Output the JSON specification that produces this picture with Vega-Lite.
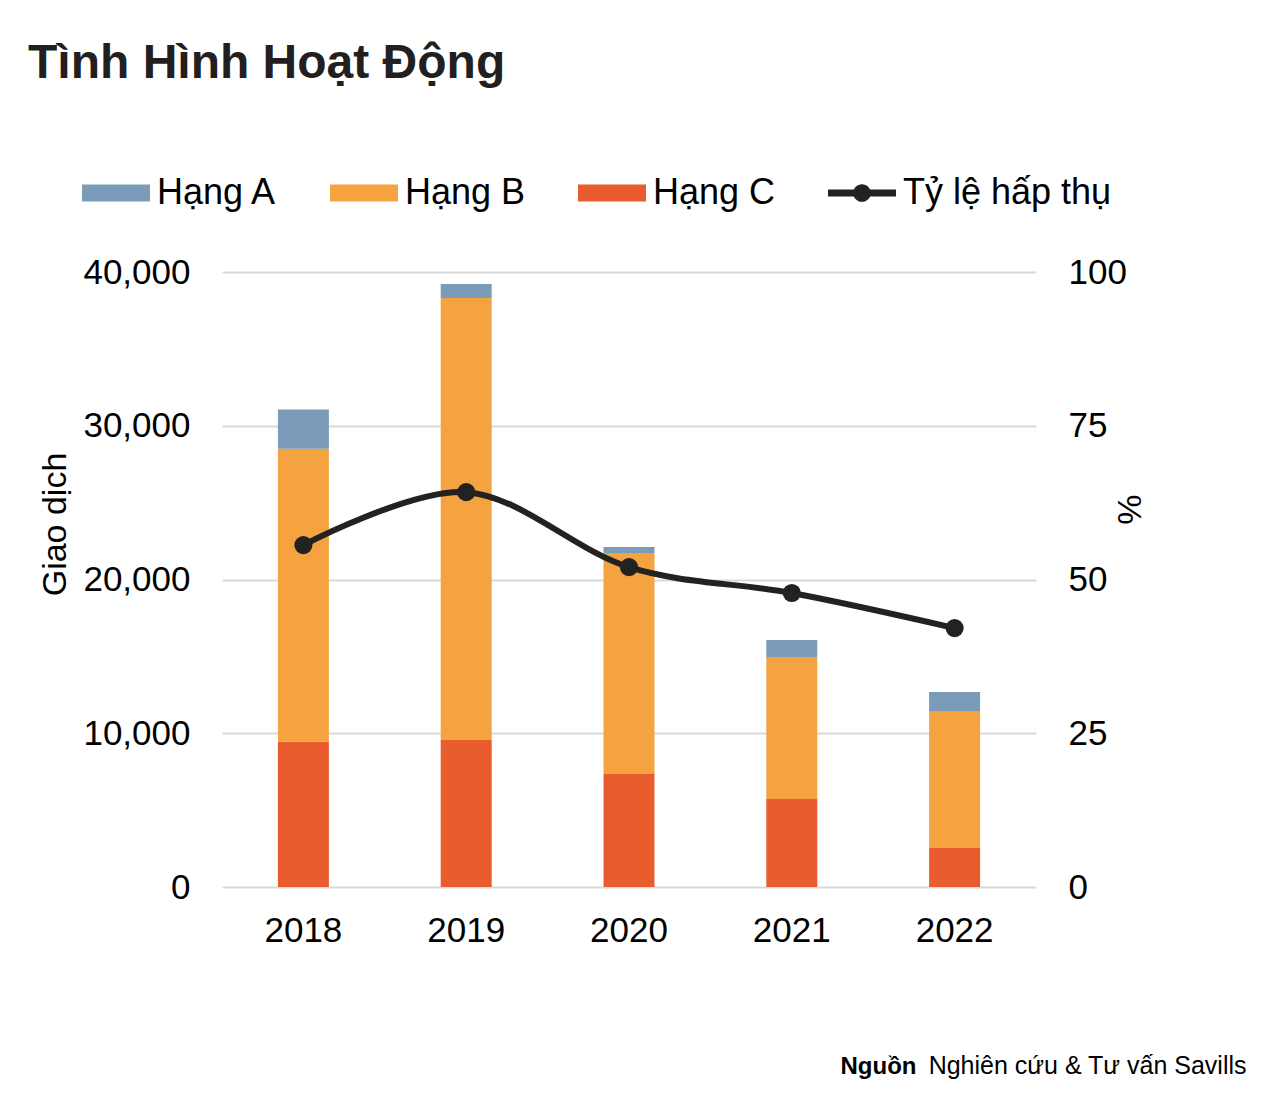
{
  "$schema": "https://vega.github.io/schema/vega-lite/v6.json",
  "width": 814,
  "height": 615,
  "autosize": {"type": "none"},
  "padding": {"left": 222, "top": 272, "right": 234, "bottom": 209},
  "background": "white",
  "config": {
    "font": "Liberation Sans",
    "view": {"stroke": null},
    "axis": {"labelFont": "Liberation Sans", "titleFont": "Liberation Sans", "labelColor": "#000000", "titleColor": "#000000"}
  },
  "title": {
    "text": "Tình Hình Hoạt Động",
    "anchor": "start",
    "frame": "group",
    "orient": "top",
    "font": "Liberation Sans",
    "fontSize": 48,
    "fontWeight": "bold",
    "color": "#231f20",
    "baseline": "alphabetic",
    "offset": 33,
    "dx": -194
  },
  "datasets": {
    "bars": [
      {"year": "2018", "series": "Hạng C", "value": 9450},
      {"year": "2018", "series": "Hạng B", "value": 19050},
      {"year": "2018", "series": "Hạng A", "value": 2550},
      {"year": "2019", "series": "Hạng C", "value": 9560},
      {"year": "2019", "series": "Hạng B", "value": 28750},
      {"year": "2019", "series": "Hạng A", "value": 910},
      {"year": "2020", "series": "Hạng C", "value": 7350},
      {"year": "2020", "series": "Hạng B", "value": 14370},
      {"year": "2020", "series": "Hạng A", "value": 390},
      {"year": "2021", "series": "Hạng C", "value": 5720},
      {"year": "2021", "series": "Hạng B", "value": 9240},
      {"year": "2021", "series": "Hạng A", "value": 1100},
      {"year": "2022", "series": "Hạng C", "value": 2540},
      {"year": "2022", "series": "Hạng B", "value": 8910},
      {"year": "2022", "series": "Hạng A", "value": 1230}
    ],
    "rate": [
      {"year": "2018", "series": "Tỷ lệ hấp thụ", "rate": 55.6},
      {"year": "2019", "series": "Tỷ lệ hấp thụ", "rate": 64.2},
      {"year": "2020", "series": "Tỷ lệ hấp thụ", "rate": 52.0},
      {"year": "2021", "series": "Tỷ lệ hấp thụ", "rate": 47.8},
      {"year": "2022", "series": "Tỷ lệ hấp thụ", "rate": 42.1}
    ]
  },
  "layer": [
    {
      "data": {"name": "bars"},
      "mark": {"type": "bar", "size": 51},
      "encoding": {
        "x": {
          "field": "year", "type": "ordinal",
          "scale": {"paddingInner": 0.687, "paddingOuter": 0.3435},
          "axis": {
            "orient": "bottom",
            "labelAngle": 0, "labelFontSize": 35, "labelPadding": 26,
            "ticks": false, "domain": false, "grid": false,
            "title": "Nghiên cứu & Tư vấn Savills",
            "titleFontSize": 25, "titleFontWeight": "normal",
            "titleAnchor": "end", "titleAlign": "right", "titleBaseline": "alphabetic",
            "titleX": 1024, "titleY": 186
          }
        },
        "y": {
          "field": "value", "type": "quantitative", "stack": "zero",
          "scale": {"domain": [0, 40000]},
          "axis": {
            "orient": "left",
            "values": [0, 10000, 20000, 30000, 40000],
            "format": ",.0f",
            "labelFontSize": 35, "labelPadding": 32,
            "ticks": false, "domain": false,
            "grid": true, "gridColor": "#d9d9d9", "gridWidth": 2,
            "title": "Giao dịch", "titleFontSize": 34, "titleFontWeight": "normal",
            "titleAngle": -90, "titleBaseline": "middle", "titleAlign": "center",
            "titleX": -167, "titleY": 252
          }
        },
        "color": {
          "field": "series", "type": "nominal",
          "scale": {
            "domain": ["Hạng A", "Hạng B", "Hạng C", "Tỷ lệ hấp thụ"],
            "range": ["#7a9cb9", "#f4a340", "#e95c2e", "#222222"]
          },
          "legend": {
            "title": null,
            "orient": "none",
            "legendX": -140,
            "legendY": -113,
            "direction": "horizontal",
            "columns": 4,
            "columnPadding": 52,
            "labelFontSize": 36,
            "labelFont": "Liberation Sans",
            "labelColor": "#000000",
            "labelOffset": 7,
            "labelLimit": 400,
            "symbolSize": 4624,
            "symbolType": "M-1,-0.25H1V0.25H-1Z",
            "encode": {
              "symbols": {
                "update": {
                  "shape": {"signal": "datum.value === 'Tỷ lệ hấp thụ' ? 'M-1,-0.1H1V0.1H-1Z M0.26,0A0.26,0.26 0 1,1 -0.26,0A0.26,0.26 0 1,1 0.26,0Z' : 'M-1,-0.25H1V0.25H-1Z'"},
                  "size": {"value": 4624},
                  "fill": {"scale": "color", "field": "value"},
                  "stroke": {"value": "transparent"},
                  "strokeWidth": {"value": 0},
                  "opacity": {"value": 1},
                  "fillOpacity": {"value": 1}
                }
              }
            }
          }
        },
        "order": {"field": "series", "sort": "descending"}
      }
    },
    {
      "data": {"name": "rate"},
      "mark": {
        "type": "line",
        "interpolate": "cardinal",
        "strokeWidth": 6,
        "point": {"filled": true, "size": 330, "color": "#222222"}
      },
      "encoding": {
        "x": {
          "field": "year", "type": "ordinal",
          "axis": {
            "orient": "top",
            "labels": false, "ticks": false, "domain": false, "grid": false,
            "title": "Nguồn",
            "titleFontSize": 24, "titleFontWeight": "bold",
            "titleAnchor": "start", "titleAlign": "left", "titleBaseline": "alphabetic",
            "titleAngle": 0,
            "titleX": 618, "titleY": 801
          }
        },
        "y": {
          "field": "rate", "type": "quantitative",
          "scale": {"domain": [0, 100]},
          "axis": {
            "orient": "right",
            "values": [0, 25, 50, 75, 100],
            "labelFontSize": 35, "labelPadding": 32,
            "ticks": false, "domain": false, "grid": false,
            "title": "%", "titleFontSize": 34, "titleFontWeight": "normal",
            "titleAngle": 90, "titleBaseline": "middle", "titleAlign": "center",
            "titleX": 91, "titleY": 237
          }
        },
        "color": {"field": "series", "type": "nominal"}
      }
    }
  ],
  "resolve": {"scale": {"y": "independent"}, "axis": {"x": "independent"}}
}
